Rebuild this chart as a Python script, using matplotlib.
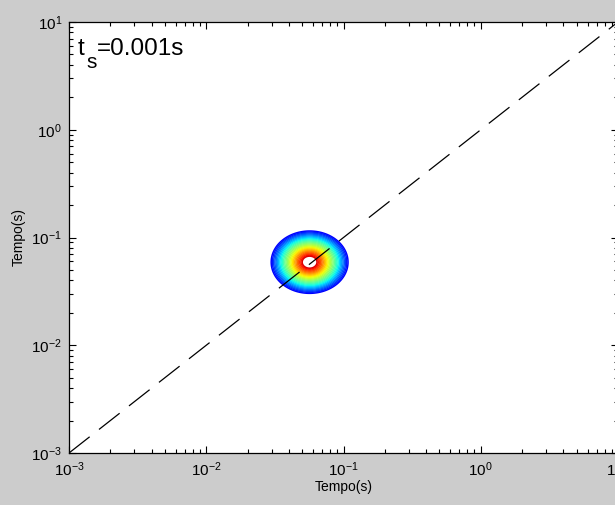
import numpy as np
import matplotlib
matplotlib.use("Agg")
import matplotlib.pyplot as plt
from matplotlib.ticker import LogLocator, NullFormatter
from matplotlib.colors import Normalize

plt.rcParams["font.family"] = ["Liberation Sans", "DejaVu Sans"]
plt.rcParams["mathtext.fontset"] = "custom"
plt.rcParams["mathtext.rm"] = "Liberation Sans"
plt.rcParams["mathtext.it"] = "Liberation Sans"
plt.rcParams["mathtext.default"] = "regular"

# Axis limits and decade ticks
axis_limits = [1e-3, 1e1]
decade_ticks = [1e-3, 1e-2, 1e-1, 1e0, 1e1]

# Identity reference line
diag_x = [1e-3, 1e1]
diag_y = [1e-3, 1e1]

# Joint distribution peak (log10 seconds) and its extent in decades
peak_log_x = -1.247
peak_log_y = -1.229
extent_log_x = 0.300
extent_log_y = 0.310

# Contour levels (fraction of peak), outermost to innermost
contour_levels = np.linspace(0.067, 0.82, 26)

annotation_main = "t"
annotation_sub = "s"
annotation_rest = "=0.001s"
x_label = "Tempo(s)"
y_label = "Tempo(s)"

W, H = 615, 505
fig = plt.figure(figsize=(W / 100, H / 100), dpi=100, facecolor="#cccccc")
ax = fig.add_axes([69 / W, 52 / H, 549 / W, 431 / H])
ax.set_facecolor("white")

# Field on a log-spaced grid
lx = np.linspace(-3, 1, 600)
ly = np.linspace(-3, 1, 600)
LX, LY = np.meshgrid(lx, ly)
r = np.sqrt(((LX - peak_log_x) / extent_log_x) ** 2
            + ((LY - peak_log_y) / extent_log_y) ** 2)
field = np.clip(1.0 - r, 0.0, None)

ax.contour(10 ** LX, 10 ** LY, field, levels=contour_levels,
           cmap="jet", norm=Normalize(vmin=-0.04, vmax=0.90),
           linewidths=1.1)

ax.plot(diag_x, diag_y, color="black", lw=0.9,
        linestyle=(0, (21, 9.5)))

ax.set_xscale("log")
ax.set_yscale("log")
ax.set_xlim(axis_limits)
ax.set_ylim(axis_limits)
ax.set_xticks(decade_ticks)
ax.set_yticks(decade_ticks)
for axis in (ax.xaxis, ax.yaxis):
    axis.set_minor_locator(LogLocator(base=10, subs=np.arange(2, 10)))
    axis.set_minor_formatter(NullFormatter())

ax.tick_params(which="both", direction="in", top=True, right=True,
               colors="black", labelsize=11)
ax.tick_params(which="major", length=5, width=0.8, pad=5)
ax.tick_params(which="minor", length=3, width=0.8)
for sp in ax.spines.values():
    sp.set_linewidth(0.9)
    sp.set_color("black")

ax.set_xlabel(x_label, fontsize=10, labelpad=1)
ax.set_ylabel(y_label, fontsize=10, labelpad=4)

# Annotation with a lowered, full-size subscript
fig.text(78 / W, 1 - 55 / H, annotation_main, fontsize=17.5, va="baseline", ha="left")
fig.text(86 / W, 1 - 68 / H, annotation_sub, fontsize=15, va="baseline", ha="left")
fig.text(97 / W, 1 - 55 / H, annotation_rest, fontsize=17.5, va="baseline", ha="left")

fig.savefig("out.png", dpi=100, facecolor=fig.get_facecolor())
